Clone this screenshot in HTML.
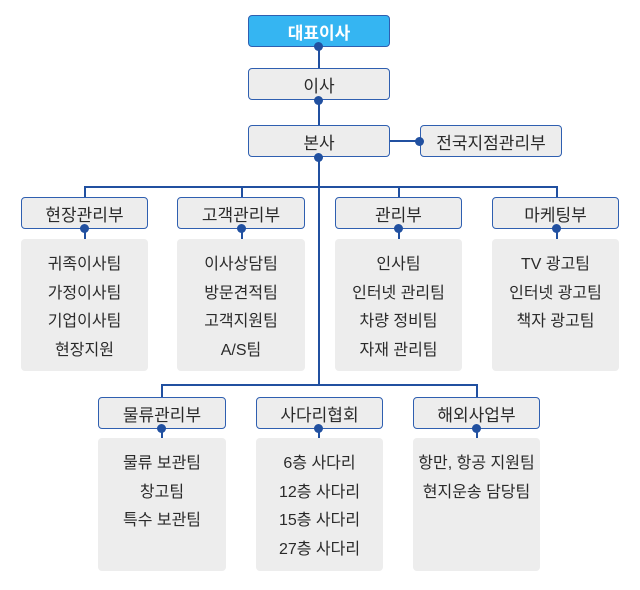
<!DOCTYPE html>
<html><head><meta charset="utf-8"><style>
body{margin:0;width:640px;height:590px;background:#fff;position:relative;overflow:hidden;font-family:"Liberation Sans","Noto Sans CJK KR",sans-serif;color:#2a2a2a}
.b{position:absolute;box-sizing:border-box;border:1.5px solid #2f5fb0;border-radius:4px;background:#ededed;display:flex;align-items:center;justify-content:center;font-size:17px}
.t{position:absolute;box-sizing:border-box;background:#ededed;border-radius:4px;text-align:center;font-size:16px;line-height:28.5px;padding-top:12px}
.l{position:absolute;background:#2150a0}
.d{position:absolute;width:9px;height:9px;border-radius:50%;background:#2150a0}
</style></head><body>
<div class="l" style="left:318px;top:46px;width:2px;height:340px"></div>
<div class="l" style="left:390px;top:140px;width:30px;height:2px"></div>
<div class="l" style="left:84px;top:186px;width:474px;height:2px"></div>
<div class="l" style="left:84px;top:186px;width:2px;height:12px"></div>
<div class="l" style="left:241px;top:186px;width:2px;height:12px"></div>
<div class="l" style="left:398px;top:186px;width:2px;height:12px"></div>
<div class="l" style="left:556px;top:186px;width:2px;height:12px"></div>
<div class="l" style="left:161px;top:384px;width:317px;height:2px"></div>
<div class="l" style="left:161px;top:384px;width:2px;height:14px"></div>
<div class="l" style="left:476px;top:384px;width:2px;height:14px"></div>
<div class="l" style="left:84px;top:228px;width:2px;height:12px"></div>
<div class="l" style="left:241px;top:228px;width:2px;height:12px"></div>
<div class="l" style="left:398px;top:228px;width:2px;height:12px"></div>
<div class="l" style="left:556px;top:228px;width:2px;height:12px"></div>
<div class="l" style="left:161px;top:428px;width:2px;height:12px"></div>
<div class="l" style="left:318px;top:428px;width:2px;height:12px"></div>
<div class="l" style="left:476px;top:428px;width:2px;height:12px"></div>

<div class="b" style="left:248px;top:15px;width:142px;height:32px;background:#35b5f2;color:#fff;font-weight:bold">대표이사</div>
<div class="b" style="left:248px;top:68px;width:142px;height:32px">이사</div>
<div class="b" style="left:248px;top:125px;width:142px;height:32px">본사</div>
<div class="b" style="left:420px;top:125px;width:142px;height:32px">전국지점관리부</div>
<div class="b" style="left:21px;top:197px;width:127px;height:32px">현장관리부</div>
<div class="b" style="left:177px;top:197px;width:128px;height:32px">고객관리부</div>
<div class="b" style="left:335px;top:197px;width:127px;height:32px">관리부</div>
<div class="b" style="left:492px;top:197px;width:127px;height:32px">마케팅부</div>
<div class="b" style="left:98px;top:397px;width:128px;height:32px">물류관리부</div>
<div class="b" style="left:256px;top:397px;width:127px;height:32px">사다리협회</div>
<div class="b" style="left:413px;top:397px;width:127px;height:32px">해외사업부</div>

<div class="t" style="left:21px;top:239px;width:127px;height:132px">귀족이사팀<br>가정이사팀<br>기업이사팀<br>현장지원</div>
<div class="t" style="left:177px;top:239px;width:128px;height:132px">이사상담팀<br>방문견적팀<br>고객지원팀<br>A/S팀</div>
<div class="t" style="left:335px;top:239px;width:127px;height:132px">인사팀<br>인터넷 관리팀<br>차량 정비팀<br>자재 관리팀</div>
<div class="t" style="left:492px;top:239px;width:127px;height:132px">TV 광고팀<br>인터넷 광고팀<br>책자 광고팀</div>
<div class="t" style="left:98px;top:438px;width:128px;height:133px">물류 보관팀<br>창고팀<br>특수 보관팀</div>
<div class="t" style="left:256px;top:438px;width:127px;height:133px">6층 사다리<br>12층 사다리<br>15층 사다리<br>27층 사다리</div>
<div class="t" style="left:413px;top:438px;width:127px;height:133px">항만, 항공 지원팀<br>현지운송 담당팀</div>

<div class="d" style="left:314px;top:42px"></div>
<div class="d" style="left:314px;top:96px"></div>
<div class="d" style="left:314px;top:153px"></div>
<div class="d" style="left:415px;top:137px"></div>
<div class="d" style="left:80px;top:224px"></div>
<div class="d" style="left:237px;top:224px"></div>
<div class="d" style="left:394px;top:224px"></div>
<div class="d" style="left:552px;top:224px"></div>
<div class="d" style="left:157px;top:424px"></div>
<div class="d" style="left:314px;top:424px"></div>
<div class="d" style="left:472px;top:424px"></div>
</body></html>
